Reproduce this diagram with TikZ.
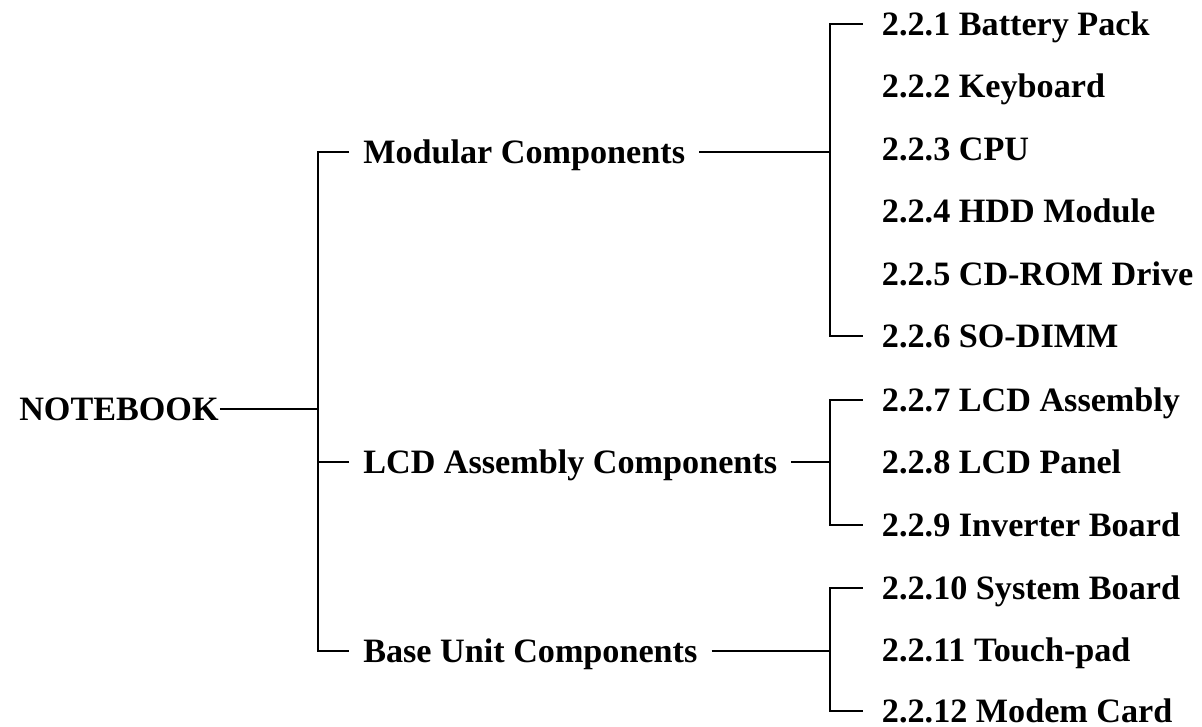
\documentclass[tikz,border=0pt]{standalone}
\usepackage{fontspec}
\setmainfont{Liberation Serif}
\usepackage{tikz}

\begin{document}
\begin{tikzpicture}[
    x=0.025cm, y=-0.025cm,
    textbox/.style={anchor=west, inner ysep=0pt, font=\bfseries\fontsize{24.3}{29}\selectfont, text height=17pt, text depth=1pt},
    rootbox/.style={textbox, inner xsep=0.025cm},
    groupbox/.style={textbox, inner xsep=0.35cm},
    partbox/.style={textbox, inner xsep=0.475cm},
    link/.style={line width=1.2pt}
]
    \useasboundingbox (0,0) rectangle (1202,727);
    % root and component groups
    \node [rootbox] (notebook) at (18,409) {NOTEBOOK};
    \node [groupbox] (modular) at (349,152) {Modular Components};
    \node [groupbox] (lcd) at (349,462) {LCD Assembly Components};
    \node [groupbox] (base) at (349,651) {Base Unit Components};
    % modular parts
    \node [partbox] (battery) at (862.7,24) {2.2.1 Battery Pack};
    \node [partbox] (keyboard) at (862.7,86) {2.2.2 Keyboard};
    \node [partbox] (cpu) at (862.7,149) {2.2.3 CPU};
    \node [partbox] (hdd) at (862.7,211) {2.2.4 HDD Module};
    \node [partbox] (cdrom) at (862.7,274) {2.2.5 CD-ROM Drive};
    \node [partbox] (sodimm) at (862.7,336) {2.2.6 SO-DIMM};
    % lcd parts
    \node [partbox] (lcdasm) at (862.7,400) {2.2.7 LCD Assembly};
    \node [partbox] (panel) at (862.7,462) {2.2.8 LCD Panel};
    \node [partbox] (inverter) at (862.7,525) {2.2.9 Inverter Board};
    % base unit parts
    \node [partbox] (sysboard) at (862.7,588) {2.2.10 System Board};
    \node [partbox] (touchpad) at (862.7,650) {2.2.11 Touch-pad};
    \node [partbox] (modem) at (862.7,711) {2.2.12 Modem Card};
    % junction points
    \coordinate (trunk) at (317.7,409);
    \coordinate (modjoin) at (830,152);
    \coordinate (lcdjoin) at (830,462);
    \coordinate (basejoin) at (830,651);
    % trunk
    \draw [link] (notebook.east) -- (trunk);
    \draw [link] (modular.west) -- (modular.west -| trunk) -- (base.west -| trunk) -- (base.west);
    \draw [link] (lcd.west) -- (lcd.west -| trunk);
    % groups to parts
    \draw [link] (modular.east) -- (modjoin);
    \draw [link] (battery.west) -- (battery.west -| modjoin) -- (sodimm.west -| modjoin) -- (sodimm.west);
    \draw [link] (lcd.east) -- (lcdjoin);
    \draw [link] (lcdasm.west) -- (lcdasm.west -| lcdjoin) -- (inverter.west -| lcdjoin) -- (inverter.west);
    \draw [link] (base.east) -- (basejoin);
    \draw [link] (sysboard.west) -- (sysboard.west -| basejoin) -- (modem.west -| basejoin) -- (modem.west);
\end{tikzpicture}
\end{document}
